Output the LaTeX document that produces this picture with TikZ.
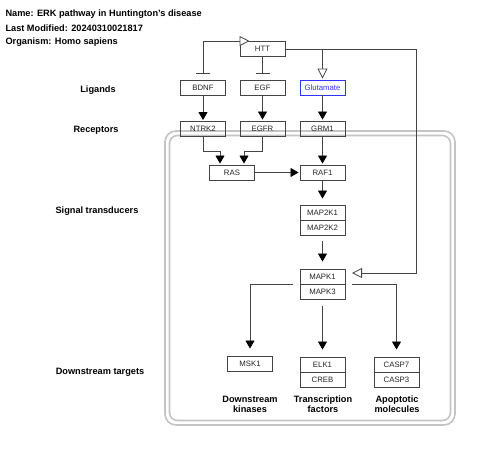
\documentclass[tikz,border=0pt]{standalone}
\usepackage{fontspec}
\setmainfont{Liberation Sans}
\usetikzlibrary{arrows.meta}
\definecolor{edgec}{HTML}{444444}
\definecolor{compc}{HTML}{C4C4C4}
\definecolor{glub}{HTML}{3333FF}
\tikzset{
  gene/.style={draw=edgec, line width=0.9pt, minimum width=45pt, minimum height=15pt, inner sep=0pt, font=\fontsize{7.8}{8}\selectfont, text=black!85},
  lab/.style={font=\bfseries\fontsize{9.2}{10}\selectfont, align=center},
  ttl/.style={font=\bfseries\fontsize{9.2}{10}\selectfont, anchor=west},
  conn/.style={draw=edgec, line width=0.8pt},
  act/.style={conn, -{Triangle[length=8pt,width=9pt,color=black,fill=black]}},
  opn/.style={conn, -{Triangle[open,length=10pt,width=10pt,fill=white]}},
  inh/.style={conn, -{Bar[width=14pt]}},
  comp/.style={draw=compc, line width=1.6pt, rounded corners=11pt}
}
\begin{document}
\begin{tikzpicture}[x=1pt,y=-1pt]
\useasboundingbox (0,0) rectangle (480,450);
% compartment
\draw[comp] (165,131) rectangle (455,425);
\draw[comp, rounded corners=8pt] (169.5,135.5) rectangle (450.5,420.5);
% titles
\node[ttl] (t1) at (2,14) {Name: ERK pathway in Huntington's disease};
\node[ttl] (t2) at (2,28) {Last Modified: 20240310021817};
\node[ttl] (t3) at (2,42) {Organism: Homo sapiens};
% row labels
\node[lab] (l1) at (98,90) {Ligands};
\node[lab] (l2) at (96,130) {Receptors};
\node[lab] (l3) at (97,211) {Signal transducers};
\node[lab] (l4) at (100,372) {Downstream targets};
\node[lab] (b1) at (250,404) {Downstream\\kinases};
\node[lab] (b2) at (323,404) {Transcription\\factors};
\node[lab] (b3) at (397,404) {Apoptotic\\molecules};
% nodes
\node[gene] (HTT) at (262.5,49) {HTT};
\node[gene] (BDNF) at (203,88) {BDNF};
\node[gene] (EGF) at (262.5,87.5) {EGF};
\node[gene, draw=glub, text=glub] (GLU) at (322.5,87.5) {Glutamate};
\node[gene] (NTRK2) at (203,129) {NTRK2};
\node[gene] (EGFR) at (262.5,128.5) {EGFR};
\node[gene] (GRM1) at (322.5,128.5) {GRM1};
\node[gene] (RAS) at (232,172.5) {RAS};
\node[gene] (RAF1) at (322.5,172.5) {RAF1};
\node[gene] (MAP2K1) at (322.5,212.5) {MAP2K1};
\node[gene] (MAP2K2) at (322.5,227.5) {MAP2K2};
\node[gene] (MAPK1) at (322.5,276.5) {MAPK1};
\node[gene] (MAPK3) at (322.5,291.5) {MAPK3};
\node[gene] (MSK1) at (250,363.5) {MSK1};
\node[gene] (ELK1) at (322.5,364.5) {ELK1};
\node[gene] (CREB) at (322.5,379.5) {CREB};
\node[gene] (CASP7) at (396.5,364.5) {CASP7};
\node[gene] (CASP3) at (396.5,379.5) {CASP3};
% connectors
\coordinate (httin) at ([xshift=10pt]HTT.north west);
\coordinate (bdnfbar) at ([yshift=6pt]BDNF.north);
\draw[conn, {Bar[width=14pt]}-{Triangle[open,length=10pt,width=10pt,fill=white]}] (bdnfbar) |- (httin);
\draw[inh, shorten >=6pt] (HTT) -- (EGF);
\draw[opn, shorten >=1pt] (HTT.east) -| (GLU.north);
\coordinate (mapkin) at (352,273);
\draw[opn] (HTT.east) -| (416,273) -- (mapkin);
\draw[act, shorten >=1pt] (BDNF) -- (NTRK2);
\draw[act, shorten >=1pt] (EGF) -- (EGFR);
\draw[act, shorten >=1pt] (GLU) -- (GRM1);
\draw[act, shorten >=1pt] (NTRK2.south) |- (220,151) -- ([xshift=-12pt]RAS.north);
\draw[act, shorten >=1pt] (EGFR.south) |- (244,151) -- ([xshift=12pt]RAS.north);
\draw[act, shorten >=1pt] (GRM1) -- (RAF1);
\draw[act, shorten >=1pt] (RAS.east) -- (RAF1.west);
\draw[act, shorten >=6pt] (RAF1) -- (MAP2K1);
\draw[act, shorten >=7pt, shorten <=6pt] (MAP2K2) -- (MAPK1);
\draw[act, shorten >=7pt] ([xshift=-7pt]MAPK1.south west) -| (MSK1.north);
\draw[act, shorten >=7pt, shorten <=7pt] (MAPK3) -- (ELK1);
\draw[act, shorten >=7pt] ([xshift=7pt]MAPK1.south east) -| (CASP7.north);
\end{tikzpicture}
\end{document}
